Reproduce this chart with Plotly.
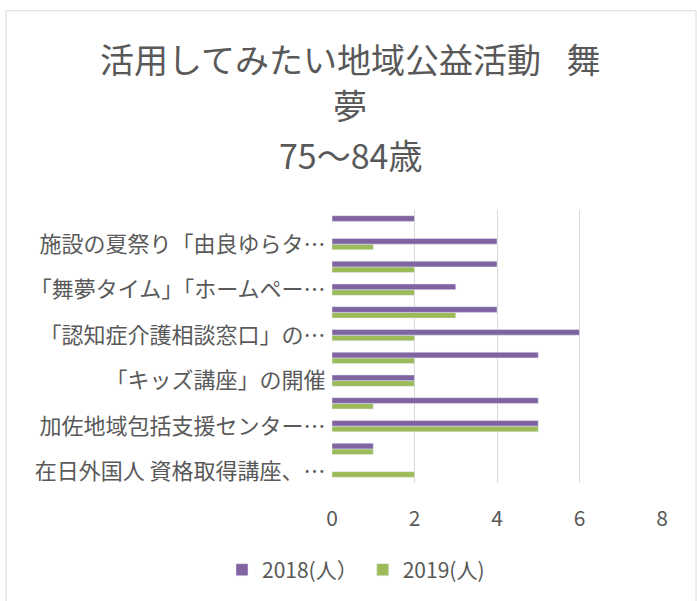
import plotly.graph_objects as go

# categories listed bottom -> top (as in the Excel category axis)
categories = [
    "在日外国人 資格取得講座、…",
    "項目2",
    "加佐地域包括支援センター…",
    "項目4",
    "「キッズ講座」の開催",
    "項目6",
    "「認知症介護相談窓口」の…",
    "項目8",
    "「舞夢タイム」「ホームペー…",
    "項目10",
    "施設の夏祭り「由良ゆらタ…",
    "項目12",
]
shown_labels = [categories[i] for i in range(0, len(categories), 2)]
values_2018 = [0, 1, 5, 5, 2, 5, 6, 4, 3, 4, 4, 2]
values_2019 = [2, 1, 5, 1, 2, 2, 2, 3, 2, 2, 1, 0]
x_ticks = [0, 2, 4, 6, 8]
title_lines = ["活用してみたい地域公益活動\u2002\u2005舞", "夢", "75～84歳"]

font_family = "Noto Sans CJK JP, Noto Sans, sans-serif"
grey = "#595959"

# plot area in pixels
L, R, T, B = 332, 662, 210, 484
W, H = 697, 601

def py(p):
    return (B - p) / (B - T)

def px(p):
    return (p - L) / (R - L)

fig = go.Figure()
fig.add_trace(go.Bar(
    y=categories, x=values_2019, orientation="h", name="2019(人)",
    marker=dict(color="#9bbb59"), legendrank=2,
))
fig.add_trace(go.Bar(
    y=categories, x=values_2018, orientation="h", name="2018(人）",
    marker=dict(color="#8064a2"), legendrank=1,
))

title_y = [58, 104, 154]
annotations = [
    dict(text=t, xref="paper", yref="paper", x=px(350), y=py(yy),
         xanchor="center", yanchor="middle", showarrow=False,
         font=dict(size=34, color=grey, family=font_family))
    for t, yy in zip(title_lines, title_y)
]

fig.update_layout(
    width=W, height=H,
    margin=dict(l=L, r=W - R, t=T, b=H - B),
    paper_bgcolor="white", plot_bgcolor="white",
    font=dict(family=font_family, color=grey),
    barmode="group", bargap=0.5, bargroupgap=0,
    annotations=annotations,
    legend=dict(
        orientation="h", x=px(356), xanchor="center", y=py(570), yanchor="middle",
        font=dict(size=21, color=grey), traceorder="normal",
        itemwidth=30,
    ),
    xaxis=dict(
        range=[0, 8], tickvals=x_ticks, showgrid=True, gridcolor="#d9d9d9",
        gridwidth=1, zeroline=False, showline=False,
        ticks="outside", ticklen=17, tickcolor="rgba(0,0,0,0)",
        tickfont=dict(size=21, color=grey),
    ),
    yaxis=dict(
        categoryorder="array", categoryarray=categories,
        tickvals=shown_labels, ticktext=shown_labels,
        showgrid=False, showline=False, zeroline=False,
        ticks="outside", ticklen=1, tickcolor="rgba(0,0,0,0)",
        tickfont=dict(size=22, color=grey),
    ),
    shapes=[dict(
        type="rect", xref="paper", yref="paper",
        x0=px(6), x1=px(696), y0=py(640), y1=py(10),
        line=dict(color="#d9d9d9", width=1), layer="below",
    )],
)

fig.write_html("out.html", config={"displayModeBar": False},
               post_script="document.body.style.margin='0';")
